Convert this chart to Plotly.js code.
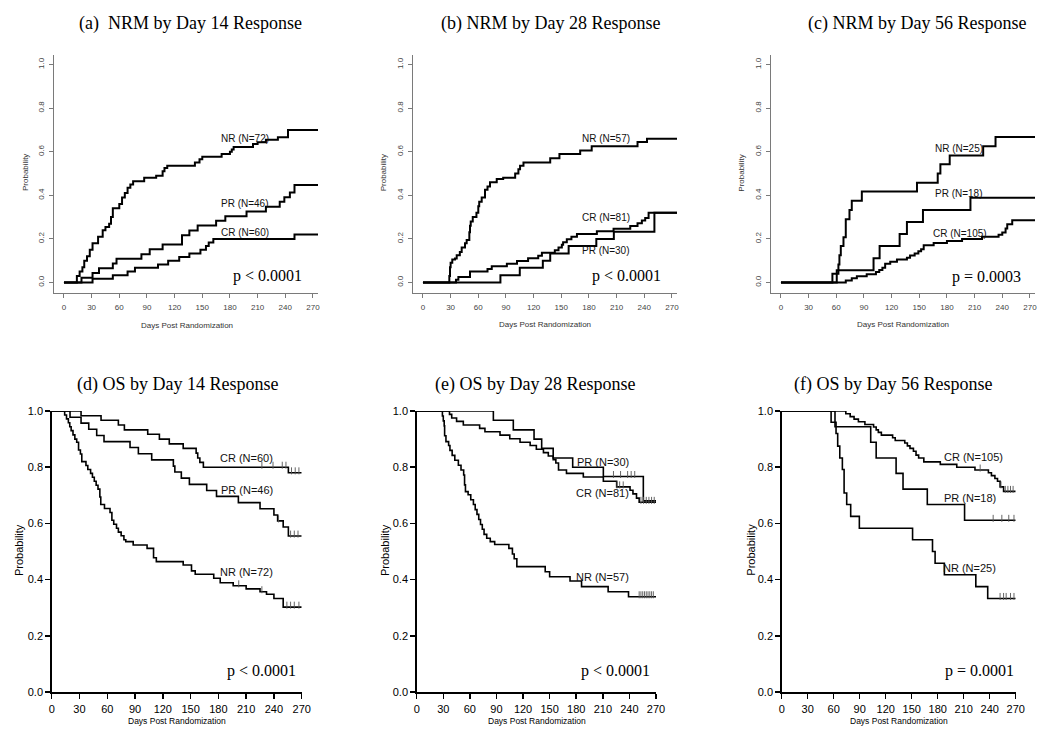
<!DOCTYPE html>
<html>
<head>
<meta charset="utf-8">
<script src="https://cdn.plot.ly/plotly-3.0.1.min.js"></script>
<style>html,body{margin:0;padding:0;background:#fff}#chart{width:1050px;height:741px}</style>
</head>
<body>
<div id="chart"></div>
<script>
// ---------------- DATA ----------------
const xTicks = [0, 30, 60, 90, 120, 150, 180, 210, 240, 270];
const yTicks = [0, 0.2, 0.4, 0.6, 0.8, 1.0];
const yTickText = ["0.0", "0.2", "0.4", "0.6", "0.8", "1.0"];

const panelTitles = ["(a)  NRM by Day 14 Response", "(b) NRM by Day 28 Response", "(c) NRM by Day 56 Response",
                     "(d) OS by Day 14 Response", "(e) OS by Day 28 Response", "(f) OS by Day 56 Response"];
const pValues = ["p < 0.0001", "p < 0.0001", "p = 0.0003", "p < 0.0001", "p < 0.0001", "p = 0.0001"];

// (a) NRM by Day 14 response
const a_NR_days = [0, 14, 17, 20, 22, 25, 28, 31, 37, 42, 45, 49, 51, 53, 60, 63, 66, 69, 72, 75, 87, 100, 107, 109, 112, 142, 147, 150, 171, 180, 182, 184, 205, 210, 219, 232, 243, 276];
const a_NR_prob = [0, 0.03, 0.05, 0.07, 0.10, 0.12, 0.15, 0.18, 0.21, 0.24, 0.255, 0.27, 0.30, 0.34, 0.36, 0.39, 0.41, 0.435, 0.45, 0.465, 0.48, 0.49, 0.51, 0.525, 0.535, 0.55, 0.565, 0.577, 0.59, 0.60, 0.61, 0.622, 0.635, 0.643, 0.655, 0.666, 0.70, 0.70];
const a_PR_days = [0, 19, 31, 38, 53, 57, 84, 93, 107, 128, 136, 145, 165, 175, 198, 219, 234, 239, 245, 250, 276];
const a_PR_prob = [0, 0.022, 0.043, 0.065, 0.087, 0.109, 0.13, 0.152, 0.174, 0.217, 0.239, 0.261, 0.283, 0.304, 0.326, 0.348, 0.37, 0.391, 0.413, 0.447, 0.447];
const a_CR_days = [0, 31, 53, 69, 77, 102, 113, 125, 136, 148, 154, 157, 162, 250, 276];
const a_CR_prob = [0, 0.017, 0.033, 0.05, 0.067, 0.083, 0.10, 0.117, 0.133, 0.15, 0.167, 0.183, 0.20, 0.22, 0.22];

// (b) NRM by Day 28 response
const b_NR_days = [0, 28.6, 29.3, 30, 31.8, 34.7, 36.6, 40, 42, 45.6, 47.4, 50.3, 51, 51.8, 54, 58, 60, 61, 63.7, 67.3, 70, 72.7, 80, 87, 100, 103.5, 105.3, 109, 138, 148, 170.5, 183, 232.7, 243, 276];
const b_NR_prob = [0, 0.03, 0.07, 0.09, 0.105, 0.11, 0.125, 0.14, 0.16, 0.18, 0.195, 0.23, 0.26, 0.28, 0.30, 0.32, 0.35, 0.37, 0.39, 0.425, 0.44, 0.46, 0.475, 0.48, 0.50, 0.52, 0.535, 0.55, 0.57, 0.59, 0.605, 0.625, 0.645, 0.66, 0.66];
const b_CR_days = [0, 35.8, 38.4, 51, 70, 74.6, 91, 102, 114, 125, 129, 143, 147, 150.6, 152, 156, 161, 167, 188.6, 206.7, 224.8, 232.7, 237.4, 241, 244.7, 276];
const b_CR_prob = [0, 0.012, 0.025, 0.05, 0.062, 0.074, 0.086, 0.099, 0.111, 0.123, 0.136, 0.148, 0.16, 0.173, 0.185, 0.198, 0.21, 0.222, 0.235, 0.247, 0.259, 0.272, 0.284, 0.296, 0.32, 0.32];
const b_PR_days = [0, 84, 105, 130, 138, 158, 188, 207, 251, 276];
const b_PR_prob = [0, 0.033, 0.067, 0.10, 0.133, 0.167, 0.20, 0.233, 0.32, 0.32];

// (c) NRM by Day 56 response
const c_NR_days = [0, 55.8, 62.3, 63.4, 64.9, 67.8, 70.3, 74.3, 76.8, 87.7, 147.5, 170, 172.9, 183, 219.3, 232.7, 276];
const c_NR_prob = [0, 0.04, 0.083, 0.125, 0.167, 0.208, 0.29, 0.333, 0.375, 0.417, 0.458, 0.50, 0.542, 0.583, 0.625, 0.667, 0.667];
const c_PR_days = [0, 60.5, 100.4, 107, 128.7, 136.6, 154, 205.5, 276];
const c_PR_prob = [0, 0.056, 0.111, 0.167, 0.222, 0.278, 0.333, 0.389, 0.389];
const c_CR_days = [0, 70.3, 76.8, 82.3, 93, 103, 106.6, 110, 113, 118.5, 125.8, 136.6, 140, 145, 149, 152, 154.8, 165.6, 180, 196.4, 218, 236, 240, 243.6, 245.4, 250.8, 276];
const c_CR_prob = [0, 0.0095, 0.019, 0.029, 0.038, 0.048, 0.057, 0.067, 0.086, 0.095, 0.105, 0.114, 0.124, 0.133, 0.143, 0.152, 0.171, 0.181, 0.19, 0.20, 0.21, 0.219, 0.229, 0.248, 0.267, 0.286, 0.286];

// (d) OS by Day 14 response
const d_CR_days = [0, 31.7, 53.3, 72, 78.5, 103.7, 116.3, 127, 142, 156, 157.7, 160, 163.8, 255.6, 270];
const d_CR_prob = [1, 0.983, 0.967, 0.95, 0.933, 0.917, 0.90, 0.883, 0.867, 0.85, 0.833, 0.817, 0.80, 0.78, 0.78];
const d_CR_cens = [227, 239, 249, 253, 259, 263, 267];
const d_PR_days = [0, 19.8, 31.7, 40, 48.6, 56.5, 84.6, 93.6, 108, 131.4, 133, 140, 148.7, 167.4, 178, 201.6, 225, 240, 244, 250, 255.6, 270];
const d_PR_prob = [1, 0.978, 0.957, 0.935, 0.913, 0.891, 0.87, 0.848, 0.826, 0.804, 0.783, 0.761, 0.739, 0.717, 0.696, 0.674, 0.652, 0.63, 0.609, 0.587, 0.555, 0.555];
const d_PR_cens = [245, 258, 262, 266];
const d_NR_days = [0, 14, 16, 18, 19.5, 21, 23, 25, 27, 29, 31, 32.5, 37, 39, 42, 44, 46, 48, 50, 52, 53, 57, 63, 65, 67, 70, 72, 75, 78, 80, 88, 103, 110, 113, 142, 151, 155, 175, 182, 196, 210, 225, 232, 240, 250, 270];
const d_NR_prob = [1, 0.986, 0.972, 0.958, 0.944, 0.93, 0.915, 0.90, 0.889, 0.861, 0.847, 0.82, 0.806, 0.792, 0.778, 0.764, 0.75, 0.736, 0.722, 0.694, 0.667, 0.653, 0.639, 0.611, 0.597, 0.583, 0.569, 0.556, 0.542, 0.535, 0.523, 0.511, 0.478, 0.464, 0.452, 0.431, 0.419, 0.405, 0.389, 0.378, 0.367, 0.357, 0.348, 0.333, 0.302, 0.302];
const d_NR_cens = [202, 227, 254, 258, 262, 267];

// (e) OS by Day 28 response
const e_PR_days = [0, 86.5, 109, 132.4, 141, 154, 176, 210.6, 255.7, 270];
const e_PR_prob = [1, 0.967, 0.933, 0.90, 0.867, 0.833, 0.80, 0.767, 0.68, 0.68];
const e_PR_cens = [222, 230, 238, 242, 246];
const e_CR_days = [0, 37, 39.5, 45, 52.6, 71, 77, 94, 105, 116.6, 128, 135, 143, 148.5, 154, 157, 160, 169, 188, 210.6, 225.6, 240.7, 244, 248, 251, 270];
const e_CR_prob = [1, 0.988, 0.975, 0.963, 0.95, 0.938, 0.926, 0.914, 0.901, 0.889, 0.877, 0.864, 0.852, 0.84, 0.827, 0.815, 0.79, 0.778, 0.765, 0.75, 0.73, 0.718, 0.705, 0.69, 0.675, 0.675];
const e_CR_cens = [226, 229, 233, 253, 256, 259, 262, 265, 268];
const e_NR_days = [0, 29, 30, 31, 31.5, 33, 36, 37.5, 40, 43, 47, 50, 53, 54, 55, 58, 61, 64, 66, 68, 70, 72, 74, 76, 79, 83, 88, 104, 108, 110, 113, 145, 150, 173, 186, 216, 239, 270];
const e_NR_prob = [1, 0.982, 0.965, 0.947, 0.912, 0.891, 0.877, 0.86, 0.842, 0.825, 0.807, 0.79, 0.772, 0.737, 0.713, 0.702, 0.684, 0.667, 0.649, 0.632, 0.614, 0.596, 0.579, 0.561, 0.547, 0.535, 0.525, 0.511, 0.491, 0.474, 0.446, 0.428, 0.41, 0.395, 0.375, 0.357, 0.339, 0.339];
const e_NR_cens = [251, 253, 255, 257, 259, 261, 263, 265, 267];

// (f) OS by Day 56 response
const f_CR_days = [0, 74, 79, 83.5, 88.5, 96, 106, 109, 111.5, 115, 128, 131, 142, 145, 148, 152, 155, 158, 164, 183, 202, 223, 238.5, 242, 246, 249, 252, 256, 270];
const f_CR_prob = [1, 0.99, 0.98, 0.971, 0.962, 0.952, 0.943, 0.933, 0.924, 0.914, 0.905, 0.895, 0.886, 0.876, 0.867, 0.857, 0.843, 0.833, 0.819, 0.81, 0.80, 0.79, 0.78, 0.77, 0.76, 0.75, 0.73, 0.714, 0.714];
const f_CR_cens = [229, 253, 258, 261, 264, 267];
const f_PR_days = [0, 61.5, 102.7, 109, 132, 140, 168, 211, 270];
const f_PR_prob = [1, 0.944, 0.889, 0.833, 0.778, 0.722, 0.667, 0.611, 0.611];
const f_PR_cens = [244, 254, 262, 268];
const f_NR_days = [0, 57, 62.7, 64.6, 67, 70, 72, 75, 79.6, 89.6, 151, 174, 177, 187.7, 224, 237.7, 270];
const f_NR_prob = [1, 0.96, 0.92, 0.875, 0.833, 0.792, 0.708, 0.667, 0.625, 0.583, 0.542, 0.50, 0.458, 0.417, 0.375, 0.333, 0.333];
const f_NR_cens = [252, 256, 259, 264, 268];

// Curve labels (text, day, probability)
const labels = [
  [["NR (N=72)", 196.6, 0.66], ["PR (N=46)", 196.6, 0.363], ["CR (N=60)", 196.6, 0.229]],
  [["NR (N=57)", 198.7, 0.66], ["CR (N=81)", 198.7, 0.30], ["PR (N=30)", 198.7, 0.146]],
  [["NR (N=25)", 192.8, 0.615], ["PR (N=18)", 192.8, 0.408], ["CR (N=105)", 194.6, 0.226]],
  [["CR (N=60)", 210.6, 0.8316], ["PR (N=46)", 210.6, 0.719], ["NR (N=72)", 210.6, 0.428]],
  [["PR (N=30)", 209.9, 0.82], ["CR (N=81)", 209.9, 0.707], ["NR (N=57)", 209.9, 0.408]],
  [["CR (N=105)", 221, 0.8375], ["PR (N=18)", 217, 0.689], ["NR (N=25)", 217, 0.44]]
];
const pPos = [[221, 0.03], [221, 0.031], [222.5, 0.026], [226.8, 0.076], [223.8, 0.076], [228.8, 0.076]];

// ---------------- LAYOUT HELPERS ----------------
const W = 1050, H = 741;
const fx = v => v / W;
const fy = v => 1 - v / H;

// pixel boxes [left, right, top, bottom]
const boxes = [
  [54, 318, 54.5, 292.5], [413, 677, 54.5, 292.5], [771, 1035, 54.5, 292.5],
  [51.7, 301.7, 411, 692], [416.7, 656, 411, 692], [781.7, 1015.7, 411, 692]
];
const titleCenters = [[190, 24], [550, 24], [917, 24], [177.5, 384], [535, 384], [893, 384]];
const yLabPos = [[25, 173], [383.3, 173], [740.7, 173], [19, 550], [385, 550], [750.7, 550]];
const xLabPos = [[186.7, 326], [545, 324], [903.3, 324], [176.7, 720.7], [536.7, 720.7], [899, 720.7]];

const SANS = "Liberation Sans, Arial, sans-serif";
const SERIF = "Liberation Serif, Times New Roman, serif";

function stepAt(xs, ys, d) {
  let v = ys[0];
  for (let i = 0; i < xs.length; i++) { if (xs[i] <= d) v = ys[i]; }
  return v;
}

const series = [
  [[a_NR_days, a_NR_prob], [a_PR_days, a_PR_prob], [a_CR_days, a_CR_prob]],
  [[b_NR_days, b_NR_prob], [b_CR_days, b_CR_prob], [b_PR_days, b_PR_prob]],
  [[c_NR_days, c_NR_prob], [c_PR_days, c_PR_prob], [c_CR_days, c_CR_prob]],
  [[d_CR_days, d_CR_prob, d_CR_cens], [d_PR_days, d_PR_prob, d_PR_cens], [d_NR_days, d_NR_prob, d_NR_cens]],
  [[e_PR_days, e_PR_prob, e_PR_cens], [e_CR_days, e_CR_prob, e_CR_cens], [e_NR_days, e_NR_prob, e_NR_cens]],
  [[f_CR_days, f_CR_prob, f_CR_cens], [f_PR_days, f_PR_prob, f_PR_cens], [f_NR_days, f_NR_prob, f_NR_cens]]
];

const traces = [];
const layout = {
  width: W, height: H,
  margin: {l: 0, r: 0, t: 0, b: 0},
  paper_bgcolor: "#fff", plot_bgcolor: "#fff",
  showlegend: false,
  annotations: []
};

for (let p = 0; p < 6; p++) {
  const top = p < 3;
  const idx = p + 1;
  const xa = idx === 1 ? "x" : "x" + idx;
  const ya = idx === 1 ? "y" : "y" + idx;
  const b = boxes[p];
  const axColor = top ? "#7a7a7a" : "#000";
  const tickFontColor = top ? "#444" : "#000";

  layout[idx === 1 ? "xaxis" : "xaxis" + idx] = {
    domain: [fx(b[0]), fx(b[1])],
    anchor: ya,
    range: top ? [-10.8, 275.5] : [0, 270],
    tickvals: xTicks,
    ticks: "outside", ticklen: top ? 4 : 5, tickwidth: top ? 1 : 1.5, tickcolor: axColor,
    showline: true, linecolor: axColor, linewidth: top ? 1 : 1.5,
    showgrid: false, zeroline: false,
    tickfont: {family: SANS, size: top ? 8 : 11, color: tickFontColor},
    ticklabelstandoff: top ? 3 : 1,
    fixedrange: true
  };
  layout[idx === 1 ? "yaxis" : "yaxis" + idx] = {
    domain: [fy(b[3]), fy(b[2])],
    anchor: xa,
    range: top ? [-0.046, 1.046] : [0, 1],
    tickvals: yTicks, ticktext: yTickText,
    tickangle: top ? -90 : 0,
    ticks: "outside", ticklen: top ? 4 : 5, tickwidth: top ? 1 : 1.5, tickcolor: axColor,
    showline: true, linecolor: axColor, linewidth: top ? 1 : 1.5,
    showgrid: false, zeroline: false,
    tickfont: {family: SANS, size: top ? 8 : 11, color: tickFontColor},
    ticklabelstandoff: top ? 2 : 0,
    fixedrange: true
  };

  series[p].forEach(s => {
    traces.push({
      type: "scatter", mode: "lines",
      x: s[0], y: s[1], xaxis: xa, yaxis: ya,
      line: {shape: "hv", color: "#000", width: top ? 2 : 1.6},
      cliponaxis: false, hoverinfo: "skip"
    });
    if (s[2]) {
      traces.push({
        type: "scatter", mode: "markers",
        x: s[2], y: s[2].map(d => stepAt(s[0], s[1], d) + 0.007), xaxis: xa, yaxis: ya,
        marker: {symbol: "line-ns", size: 5, line: {width: 0.9, color: "#555"}},
        cliponaxis: false, hoverinfo: "skip"
      });
    }
  });

  // panel title
  layout.annotations.push({
    xref: "paper", yref: "paper", x: fx(titleCenters[p][0]), y: fy(titleCenters[p][1]),
    xanchor: "center", yanchor: "middle", showarrow: false,
    text: panelTitles[p], font: {family: SERIF, size: 18, color: "#000"}
  });
  // axis titles
  layout.annotations.push({
    xref: "paper", yref: "paper", x: fx(yLabPos[p][0]), y: fy(yLabPos[p][1]),
    xanchor: "center", yanchor: "middle", showarrow: false, textangle: -90,
    text: "Probability", font: {family: SANS, size: top ? 8 : 11, color: top ? "#333" : "#000"}
  });
  layout.annotations.push({
    xref: "paper", yref: "paper", x: fx(xLabPos[p][0]), y: fy(xLabPos[p][1]),
    xanchor: "center", yanchor: "middle", showarrow: false,
    text: "Days Post Randomization", font: {family: SANS, size: top ? 8 : 8.5, color: top ? "#333" : "#000"}
  });
  // curve labels
  labels[p].forEach(l => {
    layout.annotations.push({
      xref: xa, yref: ya, x: l[1], y: l[2], xanchor: "center", yanchor: "middle", showarrow: false,
      text: l[0], font: {family: SANS, size: top ? 10 : 11, color: "#111"}
    });
  });
  // p value
  layout.annotations.push({
    xref: xa, yref: ya, x: pPos[p][0], y: pPos[p][1], xanchor: "center", yanchor: "middle", showarrow: false,
    text: pValues[p], font: {family: SERIF, size: 16, color: "#000"}
  });
}

Plotly.newPlot("chart", traces, layout, {displayModeBar: false, staticPlot: true});
</script>
</body>
</html>
